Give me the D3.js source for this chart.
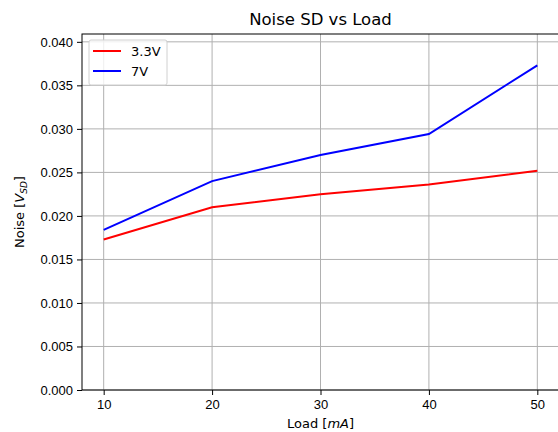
<!DOCTYPE html>
<html>
<head>
<meta charset="utf-8">
<script src="https://cdn.jsdelivr.net/npm/d3@7"></script>
<style>
    body { margin: 0; background: #fff; }
    svg { font-family: "DejaVu Sans", sans-serif; }
    .grid line { stroke: #b0b0b0; stroke-width: 1; }
    .axis path, .axis line { stroke: #000; stroke-width: 1; }
    .axis text { font-size: 13px; fill: #000; }
</style>
</head>
<body>
<script>
// data
var loads = [10, 20, 30, 40, 50];
var noise33 = [0.0173, 0.0210, 0.0225, 0.0236, 0.0252];
var noise7 = [0.0184, 0.0240, 0.0270, 0.0294, 0.0373];
var seriesNames = ["3.3V", "7V"];
var seriesColors = ["#ff0000", "#0000ff"];
var yTicks = [0, 0.005, 0.01, 0.015, 0.02, 0.025, 0.03, 0.035, 0.04];

var margin = {top: 34, right: -1, bottom: 42, left: 82},
    width = 558 - margin.left - margin.right,
    height = 432 - margin.top - margin.bottom;

var svg = d3.select("body").append("svg")
    .attr("width", 558)
    .attr("height", 432);

var g = svg.append("g")
    .attr("transform", "translate(" + margin.left + "," + margin.top + ")");

var x = d3.scaleLinear().domain([8, 52]).range([0, width]),
    y = d3.scaleLinear().domain([0, 0.0409]).range([height, 0]);

// grid
g.append("g").attr("class", "grid")
    .selectAll("line").data(loads).enter().append("line")
    .attr("x1", function (d) { return x(d); })
    .attr("x2", function (d) { return x(d); })
    .attr("y1", 0).attr("y2", height);
g.append("g").attr("class", "grid")
    .selectAll("line").data(yTicks).enter().append("line")
    .attr("x1", 0).attr("x2", width)
    .attr("y1", function (d) { return y(d); })
    .attr("y2", function (d) { return y(d); });

// lines
var line = d3.line()
    .x(function (d) { return x(d[0]); })
    .y(function (d) { return y(d[1]); });

[noise33, noise7].forEach(function (vals, i) {
    g.append("path")
        .datum(loads.map(function (l, j) { return [l, vals[j]]; }))
        .attr("fill", "none")
        .attr("stroke", seriesColors[i])
        .attr("stroke-width", 2)
        .attr("d", line);
});

// axes
g.append("g")
    .attr("class", "axis")
    .attr("transform", "translate(0," + height + ")")
    .call(d3.axisBottom(x).tickValues(loads).tickSize(5).tickPadding(5).tickFormat(d3.format("d")))
    .call(function (a) { a.select(".domain").remove(); });

g.append("g")
    .attr("class", "axis")
    .call(d3.axisLeft(y).tickValues(yTicks).tickSize(5).tickPadding(4).tickFormat(d3.format(".3f")))
    .call(function (a) { a.select(".domain").remove(); });

// frame
g.append("rect")
    .attr("width", width).attr("height", height)
    .attr("fill", "none").attr("stroke", "#000").attr("stroke-width", 1);

// title and labels
svg.append("text")
    .attr("x", margin.left + width / 2).attr("y", 25)
    .attr("text-anchor", "middle")
    .style("font-size", "16.5px")
    .text("Noise SD vs Load");

var xl = svg.append("text")
    .attr("x", margin.left + width / 2).attr("y", 428)
    .attr("text-anchor", "middle")
    .style("font-size", "13px");
xl.append("tspan").text("Load [");
xl.append("tspan").style("font-style", "italic").text("mA");
xl.append("tspan").text("]");

var yl = svg.append("text")
    .attr("transform", "translate(24," + (margin.top + height / 2) + ") rotate(-90)")
    .attr("text-anchor", "middle")
    .style("font-size", "13px");
yl.append("tspan").text("Noise [");
yl.append("tspan").style("font-style", "italic").text("V");
yl.append("tspan").style("font-style", "italic").style("font-size", "9px").attr("dy", 3).text("SD");
yl.append("tspan").attr("dy", -3).text("]");

// legend
var legend = g.append("g").attr("transform", "translate(7,6)");
legend.append("rect")
    .attr("width", 78).attr("height", 45).attr("rx", 2)
    .attr("fill", "#fff").attr("fill-opacity", 0.8)
    .attr("stroke", "#d0d0d0").attr("stroke-width", 1);
seriesNames.forEach(function (name, i) {
    var row = legend.append("g").attr("transform", "translate(0," + (11 + i * 20) + ")");
    row.append("line")
        .attr("x1", 4).attr("x2", 32)
        .attr("stroke", seriesColors[i]).attr("stroke-width", 2);
    row.append("text")
        .attr("x", 42).attr("dy", "0.35em")
        .style("font-size", "13px")
        .text(name);
});
</script>
</body>
</html>
